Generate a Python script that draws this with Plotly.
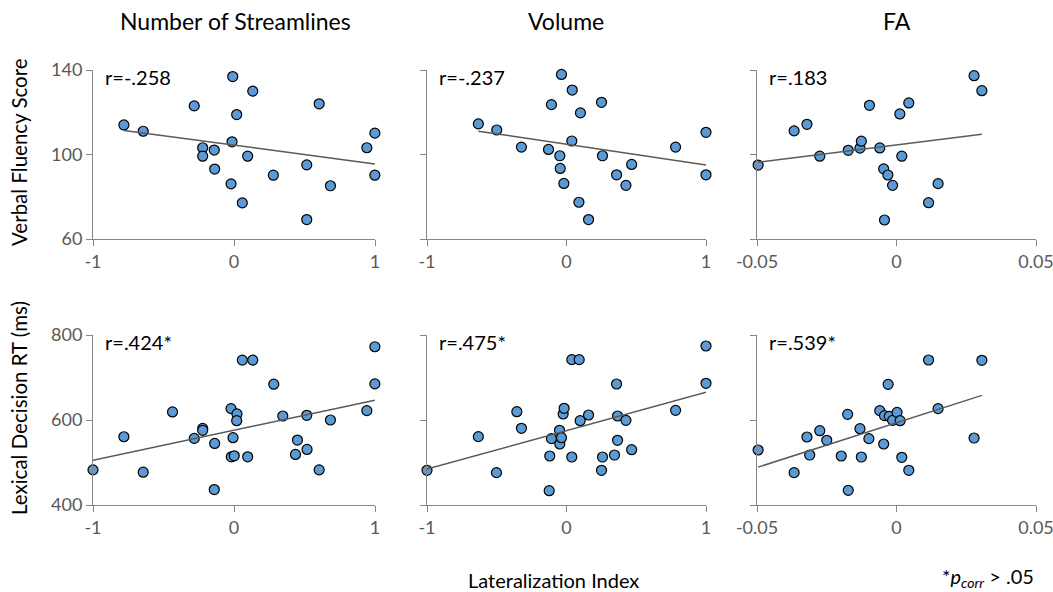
import numpy as np
import plotly.graph_objects as go

# ---------------- data ----------------
col_titles = ["Number of Streamlines", "Volume", "FA"]
row_titles = ["Verbal Fluency Score", "Lexical Decision RT (ms)"]
r_labels = [["r=-.258", "r=-.237", "r=.183"], ["r=.424*", "r=.475*", "r=.539*"]]

# Verbal fluency vs streamlines LI
vf_stream_x = [-0.781, -0.644, -0.282, -0.222, -0.222, -0.140, -0.137, -0.009, 0.133, 0.019, -0.014,
               0.097, -0.021, 0.059, 0.279, 0.516, 0.516, 0.604, 0.684, 0.942, 0.999, 0.999]
vf_stream_y = [114.0, 111.0, 123.0, 103.2, 99.2, 102.1, 93.1, 136.9, 130.0, 118.9, 106.0,
               99.2, 86.1, 77.1, 90.2, 95.1, 69.2, 124.0, 85.2, 103.2, 110.1, 90.2]

# Verbal fluency vs volume LI
vf_vol_x = [-0.632, -0.500, -0.323, -0.108, -0.129, -0.048, -0.045, -0.019, -0.036, 0.041, 0.100,
            0.038, 0.089, 0.158, 0.251, 0.258, 0.359, 0.426, 0.467, 0.782, 1.0, 1.0]
vf_vol_y = [114.5, 111.6, 103.5, 123.6, 102.4, 99.4, 93.4, 86.3, 137.9, 130.5, 119.7,
            106.4, 77.4, 69.2, 124.7, 99.4, 90.4, 85.4, 95.3, 103.5, 110.5, 90.4]

# Verbal fluency vs FA LI
vf_fa_x = [-0.0496, -0.0367, -0.0321, -0.0275, -0.0173, -0.0131, -0.0126, -0.0097, -0.0060, -0.0046,
           -0.0031, -0.0014, -0.0043, 0.0012, 0.0044, 0.0019, 0.0115, 0.0149, 0.0278, 0.0306]
vf_fa_y = [95.0, 111.2, 114.3, 99.2, 102.0, 103.0, 106.3, 123.3, 103.1, 93.2,
           90.3, 85.4, 69.0, 119.2, 124.4, 99.2, 77.2, 86.2, 137.3, 130.2]

# Lexical decision RT vs streamlines LI
ld_stream_x = [-1.0, -0.781, -0.644, -0.436, -0.282, -0.222, -0.222, -0.137, -0.140, -0.021, 0.021,
               0.019, -0.007, -0.019, 0.002, 0.097, 0.059, 0.133, 0.282, 0.346, 0.450, 0.436,
               0.516, 0.518, 0.604, 0.684, 0.942, 0.999, 0.999]
ld_stream_y = [482.7, 560.6, 477.2, 618.9, 556.7, 580.3, 575.6, 544.9, 436.3, 626.8, 614.2,
               598.4, 558.3, 513.4, 515.8, 513.4, 740.9, 740.9, 684.2, 609.4, 552.8, 518.9,
               611.0, 530.7, 482.7, 600.0, 622.0, 772.4, 685.0]

# Lexical decision RT vs volume LI
ld_vol_x = [-1.0, -0.632, -0.502, -0.356, -0.323, -0.120, -0.108, -0.124, -0.050, -0.048, -0.036,
            -0.024, -0.017, 0.038, 0.038, 0.091, 0.098, 0.158, 0.251, 0.258, 0.344, 0.359,
            0.366, 0.366, 0.426, 0.467, 0.782, 1.0, 1.0]
ld_vol_y = [481.6, 560.8, 476.1, 619.6, 580.4, 515.3, 556.1, 433.7, 575.7, 543.5, 558.4,
            614.1, 627.5, 512.9, 742.0, 742.0, 598.4, 611.8, 481.6, 512.9, 517.6, 684.7,
            609.4, 552.2, 599.2, 530.2, 622.7, 774.1, 686.3]

# Lexical decision RT vs FA LI
ld_fa_x = [-0.0496, -0.0367, -0.0321, -0.0311, -0.0275, -0.0250, -0.0198, -0.0175, -0.0173, -0.0131,
           -0.0126, -0.0099, -0.0060, -0.0046, -0.0043, -0.0030, -0.0026, -0.0014, 0.0002, 0.0013,
           0.0019, 0.0044, 0.0115, 0.0149, 0.0278, 0.0306]
ld_fa_y = [529.4, 476.1, 560.0, 517.6, 574.9, 552.2, 515.3, 613.3, 434.5, 579.6,
           512.9, 556.1, 622.0, 543.5, 610.2, 683.9, 608.6, 599.2, 618.0, 598.4,
           512.2, 481.6, 741.2, 626.7, 557.6, 740.4]

x_ticks_li = [-1, 0, 1]
x_ticks_fa = [-0.05, 0, 0.05]
y_ticks_vf = [60, 100, 140]
y_ticks_ld = [400, 600, 800]

panels = [
    [(vf_stream_x, vf_stream_y), (vf_vol_x, vf_vol_y), (vf_fa_x, vf_fa_y)],
    [(ld_stream_x, ld_stream_y), (ld_vol_x, ld_vol_y), (ld_fa_x, ld_fa_y)],
]

# ---------------- layout geometry ----------------
W, H = 1053, 592
col_px = [(93, 375), (427, 706), (757, 1036)]
row_px = [(70, 239), (335, 505)]
col_title_cx = [235, 566, 897]
row_title_cy = [152, 408]

MARKER_FILL = "#5B9BD5"
AXIS_COLOR = "#868686"
TICK_FONT_COLOR = "#595959"
FONT = "Lato, 'Open Sans', sans-serif"

fig = go.Figure()
layout = dict(
    width=W, height=H, margin=dict(l=0, r=0, t=0, b=0, autoexpand=False),
    paper_bgcolor="white", plot_bgcolor="white", showlegend=False,
    font=dict(family=FONT, color="black"),
)
annotations = []

k = 0
for ri in range(2):
    for ci in range(3):
        k += 1
        xa = "xaxis" if k == 1 else f"xaxis{k}"
        ya = "yaxis" if k == 1 else f"yaxis{k}"
        xr = "x" if k == 1 else f"x{k}"
        yr = "y" if k == 1 else f"y{k}"
        xs, ys = panels[ri][ci]
        xs = np.array(xs); ys = np.array(ys)
        fig.add_trace(go.Scatter(
            x=xs, y=ys, mode="markers", xaxis=xr, yaxis=yr, cliponaxis=False,
            marker=dict(size=10, color=MARKER_FILL, line=dict(color="black", width=1.2)),
        ))
        slope, intercept = np.polyfit(xs, ys, 1)
        lx = np.array([xs.min(), xs.max()])
        fig.add_trace(go.Scatter(
            x=lx, y=slope * lx + intercept, mode="lines", xaxis=xr, yaxis=yr,
            line=dict(color="#595959", width=1.5), cliponaxis=False,
        ))
        x0, x1 = col_px[ci]
        y0, y1 = row_px[ri]
        xt = x_ticks_fa if ci == 2 else x_ticks_li
        yt = y_ticks_vf if ri == 0 else y_ticks_ld
        layout[xa] = dict(
            domain=[x0 / W, x1 / W], anchor=yr, range=[xt[0], xt[-1]],
            tickvals=xt, ticktext=[("%g" % v) for v in xt],
            showline=True, linecolor=AXIS_COLOR, linewidth=1,
            ticks="outside", ticklen=6, tickcolor=AXIS_COLOR,
            showgrid=False, zeroline=False, automargin=False,
            ticklabeloverflow="allow",
            tickfont=dict(size=18, color=TICK_FONT_COLOR, family=FONT),
        )
        layout[ya] = dict(
            domain=[1 - y1 / H, 1 - y0 / H], anchor=xr, range=[yt[0], yt[-1]],
            tickvals=yt, showticklabels=(ci == 0),
            showline=True, linecolor=AXIS_COLOR, linewidth=1,
            ticks="outside", ticklen=6, tickcolor=AXIS_COLOR,
            showgrid=False, zeroline=False, automargin=False,
            ticklabeloverflow="allow",
            tickfont=dict(size=18, color=TICK_FONT_COLOR, family=FONT),
        )
        annotations.append(dict(
            text=r_labels[ri][ci], xref="paper", yref="paper",
            x=(x0 + 10) / W, y=1 - (y0 + 7) / H, xanchor="left", yanchor="middle",
            showarrow=False, font=dict(size=20, color="black", family=FONT),
        ))

for ci, t in enumerate(col_titles):
    annotations.append(dict(
        text=t, xref="paper", yref="paper", x=col_title_cx[ci] / W, y=1 - 21 / H,
        xanchor="center", yanchor="middle", showarrow=False,
        font=dict(size=23, color="black", family=FONT),
    ))

for ri, t in enumerate(row_titles):
    annotations.append(dict(
        text=t, xref="paper", yref="paper", x=19 / W, y=1 - row_title_cy[ri] / H,
        xanchor="center", yanchor="middle", textangle=-90, showarrow=False,
        font=dict(size=20.5, color="black", family=FONT),
    ))

annotations.append(dict(
    text="Lateralization Index", xref="paper", yref="paper", x=553 / W, y=1 - 580 / H,
    xanchor="center", yanchor="middle", showarrow=False,
    font=dict(size=20, color="black", family=FONT),
))
annotations.append(dict(
    text="*<i>p</i><sub><i>corr</i></sub> > .05", xref="paper", yref="paper",
    x=1036 / W, y=1 - 577 / H, xanchor="right", yanchor="middle", showarrow=False,
    font=dict(size=20, color="black", family=FONT),
))

layout["annotations"] = annotations
fig.update_layout(**layout)
fig.write_html(
    "out.html",
    config={"displayModeBar": False},
    post_script="document.body.style.margin='0';document.body.style.padding='0';",
)
